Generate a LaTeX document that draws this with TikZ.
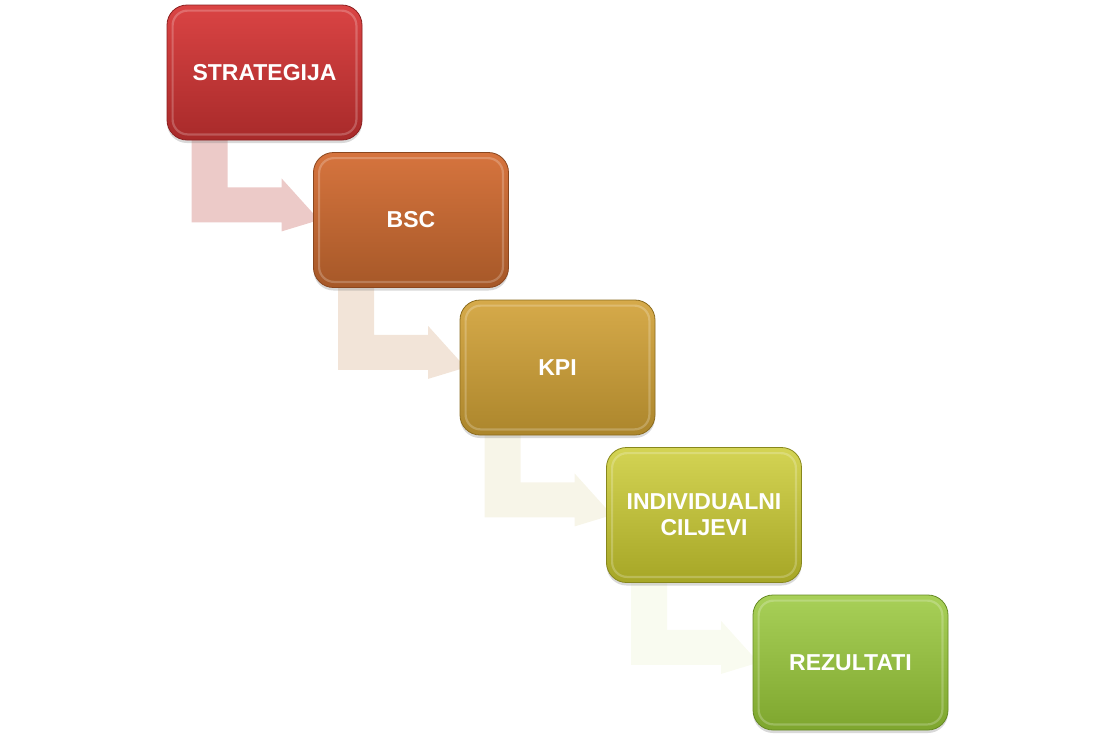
\documentclass[tikz,border=0pt]{standalone}
\usepackage{fontspec}
\setmainfont{Liberation Sans}
\usetikzlibrary{calc,shadows}
\pgfdeclarelayer{background}
\pgfsetlayers{background,main}
\definecolor{redT}{RGB}{218,68,68}\definecolor{redB}{RGB}{168,42,42}\definecolor{redD}{RGB}{140,32,32}
\definecolor{orT}{RGB}{214,116,62}\definecolor{orB}{RGB}{166,88,40}\definecolor{orD}{RGB}{138,70,30}
\definecolor{goT}{RGB}{214,170,74}\definecolor{goB}{RGB}{172,134,44}\definecolor{goD}{RGB}{140,108,30}
\definecolor{ygT}{RGB}{212,212,84}\definecolor{ygB}{RGB}{166,166,38}\definecolor{ygD}{RGB}{135,135,28}
\definecolor{grT}{RGB}{168,208,88}\definecolor{grB}{RGB}{126,166,46}\definecolor{grD}{RGB}{102,138,36}
\definecolor{arA}{RGB}{236,202,200}
\definecolor{arB}{RGB}{242,228,216}
\definecolor{arC}{RGB}{247,245,232}
\definecolor{arD}{RGB}{249,251,240}
\tikzset{
  stepbox/.style 2 args={rectangle, minimum width=195pt, minimum height=135pt,
    rounded corners=20pt, top color=#1T, bottom color=#1B, draw=#1D, line width=0.8pt,
    drop shadow={opacity=0.3, shadow xshift=0pt, shadow yshift=-3pt},
    text=white, align=center, font=\bfseries\fontsize{23}{26}\selectfont},
  highlight/.style={draw=white, opacity=0.22, line width=2.2pt, rounded corners=15pt},
  bentarrow/.style={fill=#1, draw=none}
}
\newcommand{\boxhl}[1]{\draw[highlight] ($(#1.north west)+(6,6)$) rectangle ($(#1.south east)+(-6,-6)$);}
\newcommand{\bentarr}[3]{%
  \begin{pgfonlayer}{background}
  \fill[#3] ($(#1.south west)+(25,-4)$) -- ($(#1.south west)+(61,-4)$)
    -- ($(#1.south west)+(61,47)$) -- ($(#1.south west)+(115,47)$)
    -- ($(#1.south west)+(115,38)$) -- ($(#2.west)+(6,0)$)
    -- ($(#1.south west)+(115,91)$) -- ($(#1.south west)+(115,82)$)
    -- ($(#1.south west)+(25,82)$) -- cycle;
  \end{pgfonlayer}}
\begin{document}
\begin{tikzpicture}[x=1pt,y=-1pt]
\useasboundingbox (0,0) rectangle (1113,740);
\node[stepbox={red}{}] (s1) at (264.5,72.5) {STRATEGIJA};
\node[stepbox={or}{}] (s2) at (411,220) {BSC};
\node[stepbox={go}{}] (s3) at (557.5,367.5) {KPI};
\node[stepbox={yg}{}] (s4) at (704,515) {INDIVIDUALNI\\CILJEVI};
\node[stepbox={gr}{}] (s5) at (850.5,662.5) {REZULTATI};
\boxhl{s1}\boxhl{s2}\boxhl{s3}\boxhl{s4}\boxhl{s5}
\bentarr{s1}{s2}{arA}
\bentarr{s2}{s3}{arB}
\bentarr{s3}{s4}{arC}
\bentarr{s4}{s5}{arD}
\end{tikzpicture}
\end{document}
